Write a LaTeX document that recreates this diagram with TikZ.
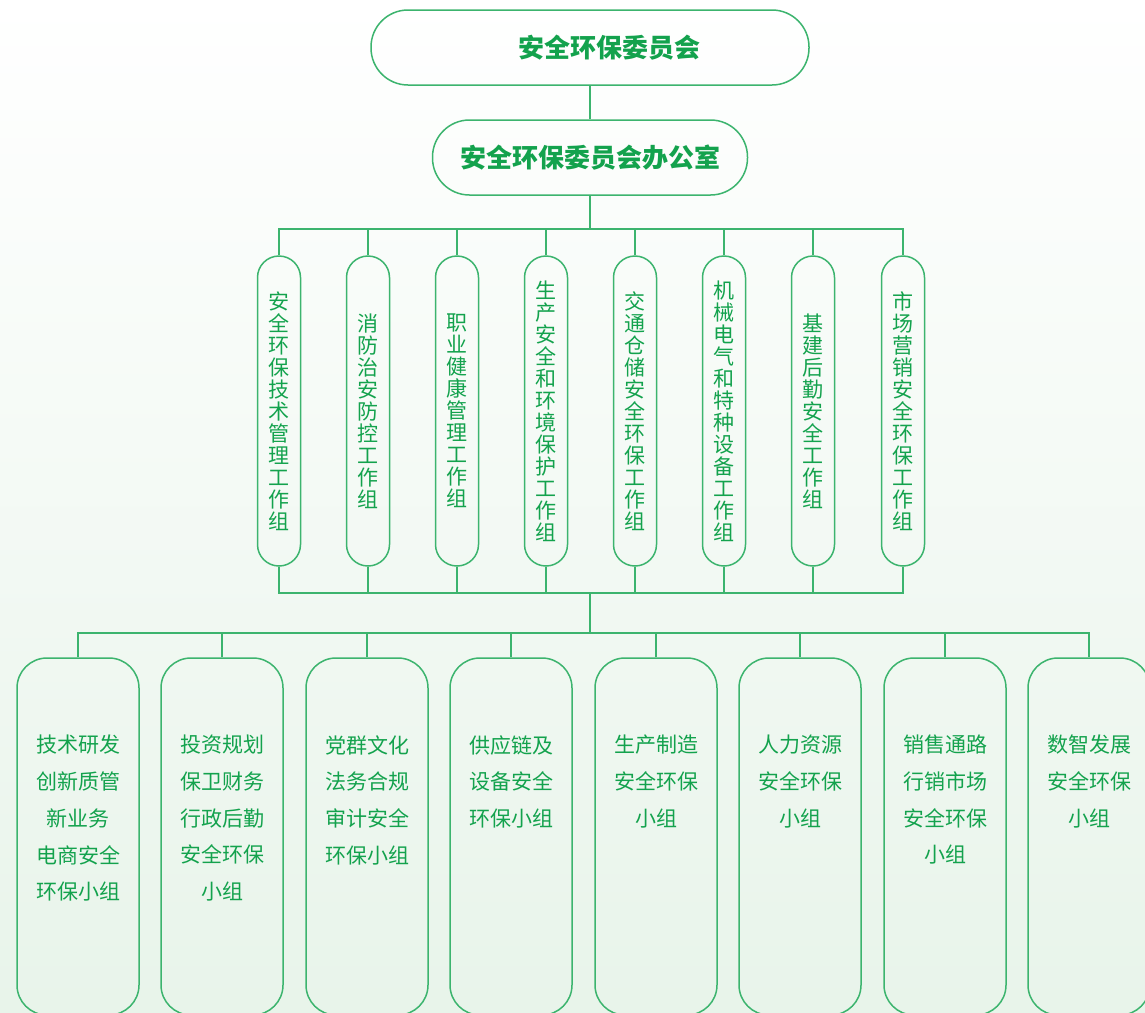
\documentclass[tikz,border=0pt]{standalone}
\usepackage{fontspec}
\newfontfamily\cjk{Noto Sans CJK SC}
\XeTeXlinebreaklocale "zh"
\XeTeXlinebreakskip=0pt plus 1pt
\definecolor{lineg}{HTML}{3CB46E}
\definecolor{textg}{HTML}{13A24D}
\definecolor{bgg}{HTML}{E8F4EA}
\tikzstyle{board}=[draw=lineg,line width=1.5pt,rounded corners=37pt,minimum width=438pt,minimum height=75pt,text=textg,font=\cjk\bfseries\fontsize{26}{30}\selectfont]
\tikzstyle{team}=[draw=lineg,line width=1.5pt,rounded corners=21.5pt,minimum width=43pt,minimum height=310pt,inner sep=0pt,text width=23pt,align=center,text=textg,font=\cjk\fontsize{21}{22}\selectfont]
\tikzstyle{group}=[draw=lineg,line width=1.5pt,rounded corners=30pt,minimum width=122pt,minimum height=357pt]
\tikzstyle{grouptext}=[anchor=north,inner sep=0pt,align=center,text=textg,font=\cjk\fontsize{21}{36.7}\selectfont]
\tikzstyle{wire}=[lineg,line width=1.5pt]

\begin{document}
\begin{tikzpicture}[x=1pt,y=-1pt]
    \fill[top color=white,bottom color=bgg] (0,0) rectangle (1145,1012);
    \useasboundingbox (0,0) rectangle (1145,1012);
    \node (board)[board] at (590,47.5) {\hspace*{39pt}安全环保委员会};
    \node (office)[board,minimum width=315pt] at (590,157.5) {安全环保委员会办公室};
    \node (w1)[team] at (279,411) {安全环保技术管理工作组};
    \node (w2)[team] at (368,411) {消防治安防控工作组};
    \node (w3)[team] at (457,411) {职业健康管理工作组};
    \node (w4)[team] at (546,411) {生产安全和环境保护工作组};
    \node (w5)[team] at (635,411) {交通仓储安全环保工作组};
    \node (w6)[team] at (724,411) {机械电气和特种设备工作组};
    \node (w7)[team] at (813,411) {基建后勤安全工作组};
    \node (w8)[team] at (903,411) {市场营销安全环保工作组};
    \node (g1)[group] at (78,836.5) {};
    \node (g2)[group] at (222,836.5) {};
    \node (g3)[group] at (367,836.5) {};
    \node (g4)[group] at (511,836.5) {};
    \node (g5)[group] at (656,836.5) {};
    \node (g6)[group] at (800,836.5) {};
    \node (g7)[group] at (945,836.5) {};
    \node (g8)[group] at (1089,836.5) {};
    \node (t1)[grouptext] at (78,735) {技术研发\\创新质管\\新业务\\电商安全\\环保小组};
    \node (t2)[grouptext] at (222,735) {投资规划\\保卫财务\\行政后勤\\安全环保\\小组};
    \node (t3)[grouptext] at (367,735) {党群文化\\法务合规\\审计安全\\环保小组};
    \node (t4)[grouptext] at (511,735) {供应链及\\设备安全\\环保小组};
    \node (t5)[grouptext] at (656,735) {生产制造\\安全环保\\小组};
    \node (t6)[grouptext] at (800,735) {人力资源\\安全环保\\小组};
    \node (t7)[grouptext] at (945,735) {销售通路\\行销市场\\安全环保\\小组};
    \node (t8)[grouptext] at (1089,735) {数智发展\\安全环保\\小组};
    \coordinate (busA) at (590,229);
    \coordinate (busB) at (590,593);
    \coordinate (busC) at (590,633);
    \draw[wire] (board) -- (office);
    \draw[wire] (office) -- (busA);
    \draw[wire] (w1.north) |- (busA) -| (w8.north);
    \draw[wire] (w2.north) -- (w2.north |- busA);
    \draw[wire] (w3.north) -- (w3.north |- busA);
    \draw[wire] (w4.north) -- (w4.north |- busA);
    \draw[wire] (w5.north) -- (w5.north |- busA);
    \draw[wire] (w6.north) -- (w6.north |- busA);
    \draw[wire] (w7.north) -- (w7.north |- busA);
    \draw[wire] (w1.south) |- (busB) -| (w8.south);
    \draw[wire] (w2.south) -- (w2.south |- busB);
    \draw[wire] (w3.south) -- (w3.south |- busB);
    \draw[wire] (w4.south) -- (w4.south |- busB);
    \draw[wire] (w5.south) -- (w5.south |- busB);
    \draw[wire] (w6.south) -- (w6.south |- busB);
    \draw[wire] (w7.south) -- (w7.south |- busB);
    \draw[wire] (busB) -- (busC);
    \draw[wire] (g1.north) |- (busC) -| (g8.north);
    \draw[wire] (g2.north) -- (g2.north |- busC);
    \draw[wire] (g3.north) -- (g3.north |- busC);
    \draw[wire] (g4.north) -- (g4.north |- busC);
    \draw[wire] (g5.north) -- (g5.north |- busC);
    \draw[wire] (g6.north) -- (g6.north |- busC);
    \draw[wire] (g7.north) -- (g7.north |- busC);
\end{tikzpicture}
\end{document}
